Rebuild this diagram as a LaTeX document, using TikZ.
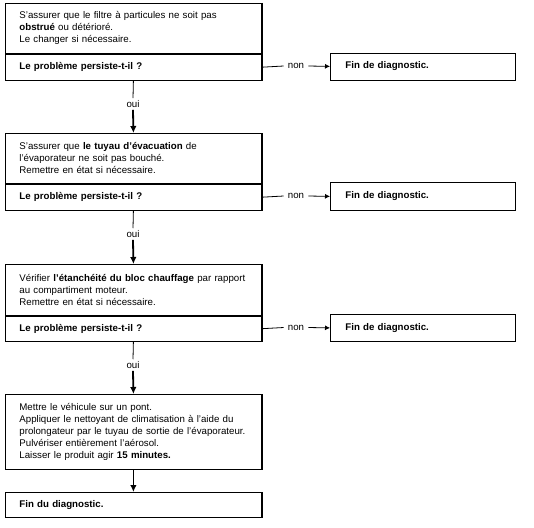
\documentclass[tikz,border=0pt]{standalone}
\usepackage{fontspec}
\setmainfont{Liberation Sans}
\usetikzlibrary{positioning,arrows.meta}

\begin{document}
\begin{tikzpicture}[x=1pt,y=-1pt,>={Latex[length=5pt,width=5pt]},
    txt/.style={font=\fontsize{9.7}{12}\selectfont},
    stepbox/.style={txt,draw,line width=0.8pt,anchor=north west,minimum width=256pt,text width=228pt,inner xsep=14pt,inner ysep=0pt,align=left},
    askbox/.style={stepbox,minimum height=26pt,font=\fontsize{9.7}{12}\selectfont\bfseries},
    endbox/.style={txt,draw,line width=0.8pt,anchor=north west,minimum width=185pt,minimum height=27pt,text width=155pt,inner xsep=15pt,inner ysep=0pt,align=left,font=\fontsize{9.7}{12}\selectfont\bfseries},
    lbl/.style={txt,inner xsep=4pt,inner ysep=2pt},
    thin line/.style={line width=0.8pt},
    down arrow/.style={-{Latex[length=7pt,width=6.5pt]},line width=1.8pt},
    side arrow/.style={->,line width=0.8pt},
    heavy edge/.style={line width=2pt}]

    \useasboundingbox (0,0) rectangle (534,527);

    \node[stepbox,minimum height=50pt] (t1) at (5,3) {S'assurer que le filtre à particules ne soit pas\\\textbf{obstrué} ou détérioré.\\Le changer si nécessaire.};
    \node[askbox] (q1) [below=0pt of t1] {Le problème persiste-t-il ?};
    \node[lbl] (non1) at (296,66) {non};
    \node[endbox] (fin1) at (330,52.5) {Fin de diagnostic.};
    \node[lbl] (oui1) at (133,104) {oui};

    \node[stepbox,minimum height=50pt] (t2) at (5,133) {S'assurer que \textbf{le tuyau d'évacuation} de\\l'évaporateur ne soit pas bouché.\\Remettre en état si nécessaire.};
    \node[askbox] (q2) [below=0pt of t2] {Le problème persiste-t-il ?};
    \node[lbl] (non2) at (296,196) {non};
    \node[endbox,minimum height=28pt] (fin2) at (330,182) {Fin de diagnostic.};
    \node[lbl] (oui2) at (133,234) {oui};

    \node[stepbox,minimum height=51pt] (t3) at (5,264) {Vérifier \textbf{l'étanchéité du bloc chauffage} par rapport\\au compartiment moteur.\\Remettre en état si nécessaire.};
    \node[askbox,minimum height=25pt] (q3) [below=0pt of t3] {Le problème persiste-t-il ?};
    \node[lbl] (non3) at (296,327.5) {non};
    \node[endbox] (fin3) at (330,314) {Fin de diagnostic.};
    \node[lbl] (oui3) at (133,365) {oui};

    \node[stepbox,minimum height=75pt] (t4) at (5,394) {Mettre le véhicule sur un pont.\\Appliquer le nettoyant de climatisation à l'aide du\\prolongateur par le tuyau de sortie de l'évaporateur.\\Pulvériser entièrement l'aérosol.\\Laisser le produit agir \textbf{15 minutes.}};
    \node[askbox,minimum height=25pt] (t5) at (5,492) {Fin du diagnostic.};

    \draw[heavy edge] (t1.north east) -- (q1.south east);
    \draw[heavy edge] (t2.north east) -- (q2.south east);
    \draw[heavy edge] (t3.north east) -- (q3.south east);
    \draw[heavy edge] (t4.north east) -- (t4.south east);
    \draw[heavy edge] (t5.north east) -- (t5.south east);

    \draw[thin line] (q1.east) -- (non1.west);
    \draw[side arrow] (non1.east) -- (fin1.west);
    \draw[thin line] (q2.east) -- (non2.west);
    \draw[side arrow] (non2.east) -- (fin2.west);
    \draw[thin line] (q3.east) -- (non3.west);
    \draw[side arrow] (non3.east) -- (fin3.west);

    \draw[thin line] (q1.south) -- (oui1.north);
    \draw[down arrow] (oui1.south) -- (t2.north);
    \draw[thin line] (q2.south) -- (oui2.north);
    \draw[down arrow] (oui2.south) -- (t3.north);
    \draw[thin line] (q3.south) -- (oui3.north);
    \draw[down arrow] (oui3.south) -- (t4.north);
    \draw[down arrow] (t4.south) -- (t5.north);
\end{tikzpicture}
\end{document}
